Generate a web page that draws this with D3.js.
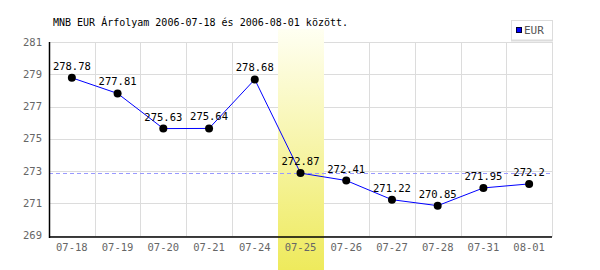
<!DOCTYPE html>
<html>
<head>
<meta charset="utf-8">
<script src="https://cdn.jsdelivr.net/npm/d3@7"></script>
<style>
  body { margin: 0; background: #fff; }
  text { font-family: "DejaVu Sans Mono", "Liberation Mono", monospace; }
</style>
</head>
<body>
<script>
// dates on the x axis and the EUR rate for each
var dates = ["07-18", "07-19", "07-20", "07-21", "07-24", "07-25", "07-26", "07-27", "07-28", "07-31", "08-01"];
var rates = [278.78, 277.81, 275.63, 275.64, 278.68, 272.87, 272.41, 271.22, 270.85, 271.95, 272.2];
var rateLabels = ["278.78", "277.81", "275.63", "275.64", "278.68", "272.87", "272.41", "271.22", "270.85", "271.95", "272.2"];
var yTicks = [269, 271, 273, 275, 277, 279, 281];
var highlightDate = "07-25";
var seriesName = "EUR";
var title = "MNB EUR Árfolyam 2006-07-18 és 2006-08-01 között.";

var margin = {top: 42, right: 48, bottom: 33, left: 49};
var width = 600 - margin.left - margin.right;
var height = 270 - margin.top - margin.bottom;

var svg = d3.select("body").append("svg")
    .attr("width", 600)
    .attr("height", 270);

var defs = svg.append("defs");
var grad = defs.append("linearGradient")
    .attr("id", "hl")
    .attr("x1", 0).attr("y1", 0).attr("x2", 0).attr("y2", 1);
grad.append("stop").attr("offset", "0%").attr("stop-color", "#fffff2");
grad.append("stop").attr("offset", "100%").attr("stop-color", "#eeea5c");

var g = svg.append("g")
    .attr("transform", "translate(" + margin.left + "," + margin.top + ")");

var x = d3.scaleBand().domain(dates).range([0, width]);
var y = d3.scaleLinear().domain([269, 281]).range([height - 1.5, 0]);

// grid
g.selectAll(".hgrid")
  .data(yTicks)
  .enter().append("line")
  .attr("x1", 0).attr("x2", width)
  .attr("y1", function(d) { return Math.round(y(d)) + 0.5; })
  .attr("y2", function(d) { return Math.round(y(d)) + 0.5; })
  .attr("stroke", "#dcdcdc");

g.selectAll(".vgrid")
  .data(dates)
  .enter().append("line")
  .attr("x1", function(d) { return Math.round(x(d) + x.bandwidth()) + 0.5; })
  .attr("x2", function(d) { return Math.round(x(d) + x.bandwidth()) + 0.5; })
  .attr("y1", Math.round(y(281)))
  .attr("y2", height)
  .attr("stroke", "#dcdcdc");

// highlighted day
g.append("rect")
  .attr("x", Math.round(x(highlightDate)))
  .attr("y", 29 - margin.top)
  .attr("width", Math.round(x.bandwidth()))
  .attr("height", 270 - 29)
  .attr("fill", "url(#hl)");

// dashed reference line at highlighted value
var hlValue = rates[dates.indexOf(highlightDate)];
g.append("line")
  .attr("x1", 0).attr("x2", width)
  .attr("y1", Math.round(y(hlValue)) + 0.5)
  .attr("y2", Math.round(y(hlValue)) + 0.5)
  .attr("stroke", "#9999ff")
  .attr("stroke-dasharray", "4,3");

// axes
g.append("line")
  .attr("x1", 0.5).attr("x2", 0.5)
  .attr("y1", 0).attr("y2", height + 1)
  .attr("stroke", "#000").attr("stroke-width", 1.5);
g.append("line")
  .attr("x1", 0).attr("x2", width)
  .attr("y1", height).attr("y2", height)
  .attr("stroke", "#000").attr("stroke-width", 1.5);

g.selectAll(".ylab")
  .data(yTicks)
  .enter().append("text")
  .attr("x", -7)
  .attr("y", function(d) { return y(d); })
  .attr("dy", "0.35em")
  .attr("text-anchor", "end")
  .attr("font-size", 10.5)
  .attr("fill", "#666")
  .text(function(d) { return d; });

g.selectAll(".xlab")
  .data(dates)
  .enter().append("text")
  .attr("x", function(d) { return x(d) + x.bandwidth() / 2; })
  .attr("y", height + 10)
  .attr("dy", "0.35em")
  .attr("text-anchor", "middle")
  .attr("font-size", 10.5)
  .attr("fill", "#666")
  .text(function(d) { return d; });

// line + points
var line = d3.line()
  .x(function(d, i) { return x(dates[i]) + x.bandwidth() / 2; })
  .y(function(d) { return y(d); });

g.append("path")
  .datum(rates)
  .attr("d", line)
  .attr("fill", "none")
  .attr("stroke", "#0000ff")
  .attr("stroke-width", 1);

g.selectAll(".dot")
  .data(rates)
  .enter().append("circle")
  .attr("cx", function(d, i) { return x(dates[i]) + x.bandwidth() / 2; })
  .attr("cy", function(d) { return y(d); })
  .attr("r", 4)
  .attr("fill", "#000");

g.selectAll(".vlab")
  .data(rates)
  .enter().append("text")
  .attr("x", function(d, i) { return x(dates[i]) + x.bandwidth() / 2; })
  .attr("y", function(d) { return y(d) - 8; })
  .attr("text-anchor", "middle")
  .attr("font-size", 10.5)
  .attr("fill", "#000")
  .text(function(d, i) { return rateLabels[i]; });

// title
svg.append("text")
  .attr("x", 53)
  .attr("y", 26)
  .attr("font-size", 10)
  .attr("fill", "#000")
  .text(title);

// legend
var lg = svg.append("g").attr("transform", "translate(511,20)");
lg.append("rect")
  .attr("x", 0.5).attr("y", 0.5)
  .attr("width", 41).attr("height", 20)
  .attr("fill", "#fff")
  .attr("stroke", "#dcdcdc");
lg.append("line")
  .attr("x1", 0).attr("x2", 42)
  .attr("y1", 20.5).attr("y2", 20.5)
  .attr("stroke", "#dcdcdc").attr("stroke-width", 2);
lg.append("rect")
  .attr("x", 5.5).attr("y", 7.5)
  .attr("width", 5).attr("height", 5)
  .attr("fill", "#0000ff")
  .attr("stroke", "#000033");
lg.append("text")
  .attr("x", 13)
  .attr("y", 10.5)
  .attr("dy", "0.35em")
  .attr("font-family", "DejaVu Sans, sans-serif")
  .attr("font-size", 11)
  .attr("fill", "#555")
  .text(seriesName);
</script>
</body>
</html>
